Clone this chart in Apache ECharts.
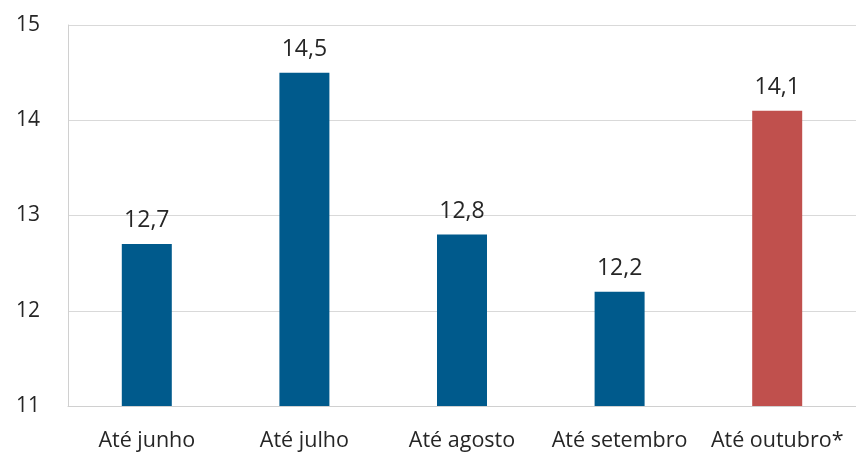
<!DOCTYPE html>
<html>
<head>
<meta charset="utf-8">
<script src="https://cdn.jsdelivr.net/npm/echarts@6/dist/echarts.min.js"></script>
<style>
  html, body { margin: 0; padding: 0; background: #fff; }
  #chart { width: 856px; height: 455px; }
</style>
</head>
<body>
<div id="chart"></div>
<script>
'use strict';

const categories = ['Até junho', 'Até julho', 'Até agosto', 'Até setembro', 'Até outubro*'];
const values = [12.7, 14.5, 12.8, 12.2, 14.1];
const barColors = ['#005a8c', '#005a8c', '#005a8c', '#005a8c', '#c0504d'];
const yTicks = [11, 12, 13, 14, 15];

const FONT = '"Open Sans", "Noto Sans", sans-serif';

const chart = echarts.init(document.getElementById('chart'));
chart.setOption({
  animation: false,
  grid: { left: 68, right: 0, top: 25, bottom: 49, containLabel: false },
  xAxis: {
    type: 'category',
    data: categories,
    axisLine: { show: true, lineStyle: { color: '#d0d0d0', width: 1 } },
    axisTick: { show: false },
    axisLabel: { color: '#262626', fontFamily: FONT, fontSize: 21.5, margin: 24, interval: 0 }
  },
  yAxis: {
    type: 'value',
    min: yTicks[0],
    max: yTicks[yTicks.length - 1],
    interval: 1,
    axisLine: { show: true, lineStyle: { color: '#d0d0d0', width: 1 } },
    axisTick: { show: false },
    splitLine: { show: true, lineStyle: { color: '#d9d9d9', width: 1 } },
    axisLabel: { color: '#262626', fontFamily: FONT, fontSize: 21, margin: 28 }
  },
  series: [{
    type: 'bar',
    barWidth: 50,
    data: values.map((v, i) => ({ value: v, itemStyle: { color: barColors[i] } })),
    label: {
      show: true,
      position: 'top',
      distance: 12,
      color: '#262626',
      fontFamily: FONT,
      fontSize: 23,
      formatter: (p) => String(p.value.toFixed(1)).replace('.', ',')
    }
  }]
});
</script>
</body>
</html>
